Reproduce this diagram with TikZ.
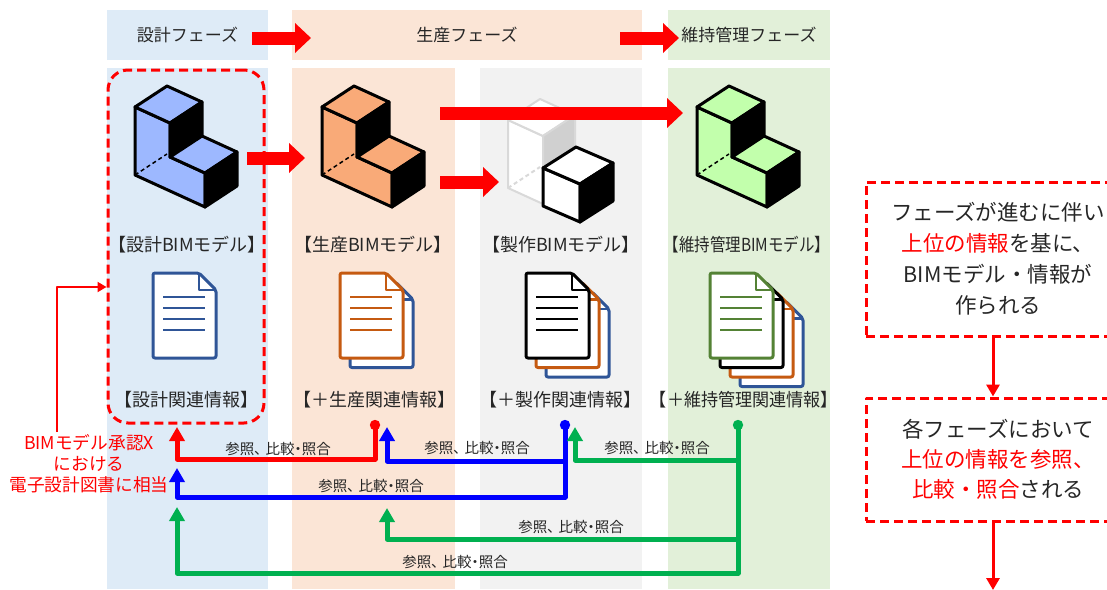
\documentclass[tikz,border=0pt]{standalone}
\usepackage{fontspec}
\setmainfont{Noto Sans CJK JP}
\newfontfamily\tightfont[RawFeature=+palt]{Noto Sans CJK JP}
\usetikzlibrary{arrows.meta}
\definecolor{bgDesign}{HTML}{DEEBF7}
\definecolor{bgProd}{HTML}{FBE5D6}
\definecolor{bgFab}{HTML}{F2F2F2}
\definecolor{bgMaint}{HTML}{E2F0D9}
\definecolor{blkBlue}{HTML}{9DB8FF}
\definecolor{blkOrange}{HTML}{F9AA78}
\definecolor{blkGreen}{HTML}{C2FFAC}
\definecolor{docBlue}{HTML}{2F5597}
\definecolor{docOrange}{HTML}{C55A11}
\definecolor{docGreen}{HTML}{548235}
\definecolor{refGreen}{HTML}{00B050}
\definecolor{ghostLine}{HTML}{D9D9D9}
\definecolor{ghostSide}{HTML}{D0D0D0}
\definecolor{txt}{HTML}{262626}
\newcommand\cmptext{参照、\hspace{4pt}比較・照合}

\begin{document}
\begin{tikzpicture}[x=1pt, y=-1pt, line join=round,
  band/.style={fill=#1, inner sep=0pt, text=txt, font=\fontsize{17}{20}\selectfont},
  lbl/.style={text=txt, font=\fontsize{18}{21}\selectfont, inner sep=0pt},
  cmplbl/.style={text=txt, font=\tightfont\fontsize{14.5}{16}\selectfont, inner sep=0pt},
  bigarrow/.style={red, line width=13pt, -{Triangle[length=16pt,width=29pt]}},
  refline/.style={line width=5pt, {Circle[length=10pt]}-{Triangle[length=14pt,width=15pt]}},
  branch/.style={line width=5pt, -{Triangle[length=14pt,width=15pt]}},
  notebox/.style={draw=red, line width=3pt, dash pattern=on 9pt off 5pt}]
\useasboundingbox (0,0) rectangle (1107,589);
\clip (0,0) rectangle (1107,589);

% Nền các giai đoạn
\node[band=bgDesign, minimum width=161pt, minimum height=50pt] (hdDesign) at (187.5,35) {設計フェーズ};
\node[band=bgProd, minimum width=350pt, minimum height=50pt] (hdProd) at (467,35) {生産フェーズ};
\node[band=bgMaint, minimum width=162pt, minimum height=50pt] (hdMaint) at (749,35) {維持管理フェーズ};
\fill[bgDesign] (107,68) rectangle (268,589);
\fill[bgProd] (292,68) rectangle (455,589);
\fill[bgFab] (480,68) rectangle (642,589);
\fill[bgMaint] (668,68) rectangle (830,589);

% Mũi tên giữa các giai đoạn
\coordinate (hdA1) at (252,38); \coordinate (hdA2) at (311,38);
\coordinate (hdB1) at (620,38); \coordinate (hdB2) at (679,38);
\draw[bigarrow] (hdA1) -- (hdA2);
\draw[bigarrow] (hdB1) -- (hdB2);

% Khối chữ L (thiết kế, sản xuất, bảo trì)
\foreach \px/\py/\col in {135/107/blkBlue, 322/107/blkOrange, 697/107/blkGreen}{
  \begin{scope}[shift={(\px,\py)}, line width=3pt]
    \filldraw[fill=\col] (0,0) -- (35,16) -- (35,50) -- (70,66) -- (70,100) -- (0,68) -- cycle;
    \filldraw[fill=\col] (0,0) -- (32,-21) -- (67,-5) -- (35,16) -- cycle;
    \filldraw[fill=black] (35,16) -- (67,-5) -- (67,29) -- (35,50) -- cycle;
    \filldraw[fill=\col] (35,50) -- (67,29) -- (102,45) -- (70,66) -- cycle;
    \filldraw[fill=black] (70,66) -- (102,45) -- (102,79) -- (70,100) -- cycle;
    \draw[line width=1.5pt, dash pattern=on 4pt off 3pt] (0,68) -- (32,47);
  \end{scope}
}

% Khối chế tạo: cột mờ + khối lập phương
\begin{scope}[shift={(508,120)}, line width=2pt]
  \filldraw[draw=ghostLine, fill=white] (0,0) -- (35,16) -- (35,84) -- (0,68) -- cycle;
  \filldraw[draw=ghostLine, fill=white] (0,0) -- (32,-21) -- (67,-5) -- (35,16) -- cycle;
  \filldraw[draw=ghostLine, fill=ghostSide] (35,16) -- (67,-5) -- (67,63) -- (35,84) -- cycle;
  \draw[ghostLine, dash pattern=on 4pt off 3pt] (0,68) -- (32,47);
  \begin{scope}[line width=3pt]
    \filldraw[fill=white] (35,48) -- (72,64) -- (72,102) -- (35,86) -- cycle;
    \filldraw[fill=white] (35,48) -- (68,27) -- (105,43) -- (72,64) -- cycle;
    \filldraw[fill=black] (72,64) -- (105,43) -- (105,81) -- (72,102) -- cycle;
  \end{scope}
\end{scope}

% Mũi tên đỏ giữa các mô hình
\coordinate (mdA1) at (247,158); \coordinate (mdA2) at (305,158);
\coordinate (mdB1) at (440,113); \coordinate (mdB2) at (683,113);
\coordinate (mdC1) at (440,182); \coordinate (mdC2) at (499,182);
\draw[bigarrow] (mdA1) -- (mdA2);
\draw[bigarrow] (mdB1) -- (mdB2);
\draw[bigarrow] (mdC1) -- (mdC2);

% Nhãn mô hình
\node[lbl] (bimDesign) at (187,245) {【設計BIMモデル】};
\node[lbl] (bimProd) at (373,245) {【生産BIMモデル】};
\node[lbl] (bimFab) at (561,245) {【製作BIMモデル】};
\node[lbl] (bimMaint) at (747,245) {\scalebox{0.86}[1]{【維持管理BIMモデル】}};

% Biểu tượng tài liệu (vẽ lớp sau trước)
\foreach \px/\k/\col in {153/0/docBlue, 340/1/docBlue, 340/0/docOrange,
    526/2/docBlue, 526/1/docOrange, 526/0/black,
    710/3/docBlue, 710/2/docOrange, 710/1/black, 710/0/docGreen}{
  \begin{scope}[shift={(\px+10*\k,273+9.5*\k)}, draw=\col, line width=3pt]
    \filldraw[fill=white, rounded corners=2pt] (0,0) -- (46,0) -- (63,17) -- (63,85) -- (0,85) -- cycle;
    \draw[line width=2.5pt] (46,0) -- (46,17) -- (63,17);
  \end{scope}
}
\foreach \px/\col in {153/docBlue, 340/docOrange, 526/black, 710/docGreen}{
  \foreach \ly in {24,35,46,57}
    \draw[\col, line width=2.5pt] (\px+10,273+\ly) -- (\px+52,273+\ly);
}

% Nhãn thông tin
\node[lbl] (infoDesign) at (186,400) {【設計関連情報】};
\node[lbl] (infoProd) at (374,400) {【＋生産関連情報】};
\node[lbl] (infoFab) at (560,400) {【＋製作関連情報】};
\node[lbl] (infoMaint) at (744,400) {\scalebox{0.95}[1]{【＋維持管理関連情報】}};

% Khung nét đứt quanh giai đoạn thiết kế
\node[notebox, rounded corners=20pt, minimum width=156pt, minimum height=353pt] (designGroup) at (186,246.5) {};

% Ghi chú bên trái
\node[text=red, font=\fontsize{17.7}{21}\selectfont, align=center, inner sep=0pt] (approvalNote) at (89,464)
  {BIMモデル承認X\\における\\電子設計図書に相当};
\coordinate (noteTop) at (57,432);
\coordinate (noteBend) at (57,287);
\draw[red, line width=2pt, -{Triangle[length=9pt,width=10pt]}] (noteTop) -- (noteBend) -- (noteBend -| designGroup.west);

% Đường tham chiếu, so sánh
\coordinate (dotP) at (375,420);
\coordinate (dotF) at (565,420);
\coordinate (dotM) at (738,420);
\coordinate (jB) at (565,461);
\coordinate (jG1) at (738,460);
\coordinate (jG2) at (738,539);
\coordinate (toD1) at (177,427);
\coordinate (toD2) at (177,468);
\coordinate (toD3) at (177,507);
\coordinate (toP1) at (387,427);
\coordinate (toP2) at (387,508);
\coordinate (toF1) at (575,427);
\draw[refline, red] (dotP) -- ++(0,39) -| (toD1);
\draw[refline, blue] (dotF) -- ++(0,77) -| (toD2);
\draw[branch, blue] (jB) -| (toP1);
\draw[refline, refGreen] (dotM) -- ++(0,153) -| (toD3);
\draw[branch, refGreen] (jG1) -| (toF1);
\draw[branch, refGreen] (jG2) -| (toP2);

\node[cmplbl] (cmpA) at (278,449) {\cmptext};
\node[cmplbl] (cmpB) at (477,448) {\cmptext};
\node[cmplbl] (cmpC) at (657,448) {\cmptext};
\node[cmplbl] (cmpD) at (371,486) {\cmptext};
\node[cmplbl] (cmpE) at (571,527) {\cmptext};
\node[cmplbl] (cmpF) at (455,562) {\cmptext};

% Khung giải thích bên phải
\node[notebox, minimum width=264pt, minimum height=154pt, align=center, text=txt,
  font=\fontsize{21.5}{31}\selectfont] (stepBox) at (998,259)
  {フェーズが進むに伴い\\{\color{red}上位の情報}を基に、\\BIMモデル・情報が\\作られる};
\node[notebox, minimum width=264pt, minimum height=123pt, align=center, text=txt,
  font=\fontsize{21.5}{30}\selectfont] (refBox) at (998,459.5)
  {各フェーズにおいて\\{\color{red}上位の情報を参照、}\\{\color{red}比較・照合}される};
\coordinate (exitPt) at (993,590);
\draw[red, line width=3pt, -{Triangle[length=12pt,width=13pt]}] ([xshift=-5pt]stepBox.south) -- ([xshift=-5pt]refBox.north);
\draw[red, line width=3pt, -{Triangle[length=12pt,width=13pt]}] ([xshift=-5pt]refBox.south) -- (exitPt);
\end{tikzpicture}
\end{document}
